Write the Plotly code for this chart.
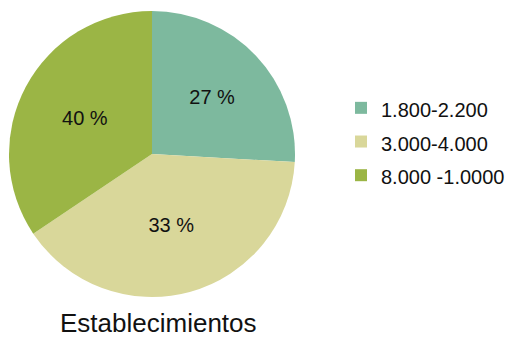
import plotly.graph_objects as go

categories = ["1.800-2.200", "3.000-4.000", "8.000 -1.0000"]
values = [25.9, 39.7, 34.4]          # slice sizes as drawn in the picture
slice_text = ["27 %", "33 %", "40 %"]  # labels as printed on the slices
colors = ["#7DB99E", "#D9D79A", "#9BB545"]
title_text = "Establecimientos"

W, H = 514, 337
legend_labels = ['<span style="font-size:20px">%s</span>' % c for c in categories]

fig = go.Figure(go.Pie(
    labels=legend_labels, values=values, text=slice_text,
    textinfo="text", textposition="inside", insidetextorientation="horizontal",
    sort=False, direction="clockwise", rotation=0,
    marker=dict(colors=colors, line=dict(width=0)),
    textfont=dict(family="Liberation Sans, Arial", size=20, color="#111111"),
    domain=dict(x=[9/W, 295/W], y=[1-297/H, 1-11/H]),
    showlegend=True, hoverinfo="skip",
))
fig.update_layout(
    width=W, height=H,
    margin=dict(l=0, r=0, t=0, b=0),
    paper_bgcolor="white", plot_bgcolor="white",
    font=dict(family="Liberation Sans, Arial", color="#111111"),
    legend=dict(x=341/W, y=1-86/H, xanchor="left", yanchor="top",
                font=dict(size=23.6), itemwidth=30, tracegroupgap=0),
    annotations=[dict(text=title_text, x=158.5/W, y=0, xref="paper", yref="paper",
                      showarrow=False, font=dict(size=26, color="#111111"),
                      xanchor="center", yanchor="bottom", height=26, valign="middle",
                      borderpad=0)],
)
fig.write_html("out.html", config={"displayModeBar": False},
               post_script="document.body.style.margin='0';")
